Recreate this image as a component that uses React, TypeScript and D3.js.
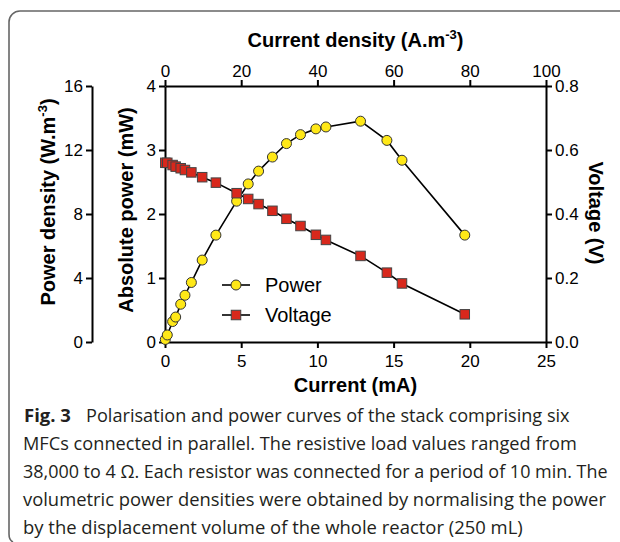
import React, { useEffect, useRef } from 'react';
import * as d3 from 'd3';

// Current (mA) for each resistor step
const currentMA = [0.02, 0.15, 0.5, 0.7, 1.03, 1.31, 1.73, 2.44, 3.34, 4.7, 5.46, 6.14, 7.05, 7.97, 8.89, 9.9, 10.56, 12.83, 14.56, 15.55, 19.67];
// Absolute power (mW)
const powerMW = [0.04, 0.11, 0.32, 0.39, 0.59, 0.73, 0.93, 1.28, 1.67, 2.2, 2.47, 2.67, 2.89, 3.1, 3.24, 3.33, 3.36, 3.45, 3.15, 2.84, 1.67];
// Voltage (V)
const voltageV = [0.56, 0.56, 0.553, 0.548, 0.543, 0.5375, 0.53, 0.515, 0.498, 0.465, 0.447, 0.431, 0.41, 0.385, 0.3625, 0.335, 0.319, 0.269, 0.2167, 0.183, 0.0865];

const currentTicks = [0, 5, 10, 15, 20, 25];
const densityCurrentTicks = [0, 20, 40, 60, 80, 100];
const powerTicks = [0, 1, 2, 3, 4];
const powerDensityTicks = [0, 4, 8, 12, 16];
const voltageTicks = [0, 0.2, 0.4, 0.6, 0.8];
const legendLabels = ['Power', 'Voltage'];
const captionBold = 'Fig. 3';
const captionLines = [
  'Polarisation and power curves of the stack comprising six',
  'MFCs connected in parallel. The resistive load values ranged from',
  '38,000 to 4 \u03A9. Each resistor was connected for a period of 10 min. The',
  'volumetric power densities were obtained by normalising the power',
  'by the displacement volume of the whole reactor (250 mL)',
];

const FONT = "'Liberation Sans', Arial, Helvetica, sans-serif";
const CAP_FONT = "'Open Sans', 'Noto Sans', sans-serif";
const YELLOW = '#FFE817';
const RED = '#D8281C';

export default function App() {
  const ref = useRef<SVGSVGElement>(null);

  useEffect(() => {
    const svg = d3.select(ref.current);
    svg.selectAll('*').remove();

    const x = d3.scaleLinear().domain([0, 25]).range([165, 546]);
    const xTop = d3.scaleLinear().domain([0, 100]).range([165, 546]);
    const yP = d3.scaleLinear().domain([0, 4]).range([342, 86]);
    const yPD = d3.scaleLinear().domain([0, 16]).range([342, 86]);
    const yV = d3.scaleLinear().domain([0, 0.8]).range([342, 86]);

    // frame
    svg.append('path')
      .attr('d', 'M 621 11 H 20 A 11 11 0 0 0 9 22 V 534 Q 9 540 13 542')
      .attr('fill', 'none').attr('stroke', '#666').attr('stroke-width', 1.6);

    const styleAxis = (g: any) => {
      g.attr('font-size', 17).attr('font-family', FONT);
      g.select('.domain').attr('stroke-width', 2).attr('stroke', '#000');
      g.selectAll('.tick line').attr('stroke-width', 2).attr('stroke', '#000');
      g.selectAll('.tick text').attr('fill', '#000');
    };

    svg.append('g').attr('transform', 'translate(0,342)')
      .call(d3.axisBottom(x).tickValues(currentTicks).tickSize(6).tickSizeOuter(0).tickPadding(7).tickFormat(d3.format('d')))
      .call(styleAxis);
    svg.append('g').attr('transform', 'translate(0,86)')
      .call(d3.axisTop(xTop).tickValues(densityCurrentTicks).tickSize(6).tickSizeOuter(0).tickPadding(3).tickFormat(d3.format('d')))
      .call(styleAxis);
    svg.append('g').attr('transform', 'translate(165,0)')
      .call(d3.axisLeft(yP).tickValues(powerTicks).tickSize(6).tickSizeOuter(0).tickPadding(3).tickFormat(d3.format('d')))
      .call(styleAxis);
    svg.append('g').attr('transform', 'translate(92,0)')
      .call(d3.axisLeft(yPD).tickValues(powerDensityTicks).tickSize(6).tickSizeOuter(0).tickPadding(3).tickFormat(d3.format('d')))
      .call(styleAxis);
    svg.append('g').attr('transform', 'translate(546,0)')
      .call(d3.axisRight(yV).tickValues(voltageTicks).tickSize(6).tickSizeOuter(0).tickPadding(3).tickFormat(d3.format('.1f')))
      .call(styleAxis);

    // axis titles
    const title = (sel: any) => sel.attr('font-family', FONT).attr('font-weight', 'bold').attr('font-size', 20).attr('fill', '#000');
    svg.append('text').call(title).attr('x', 355.5).attr('y', 392).attr('text-anchor', 'middle').text('Current (mA)');
    const tt = svg.append('text').call(title).attr('x', 355.5).attr('y', 47).attr('text-anchor', 'middle');
    tt.append('tspan').text('Current density (A.m');
    tt.append('tspan').attr('dy', -8).attr('font-size', 13).text('-3');
    tt.append('tspan').attr('dy', 8).text(')');

    const pd = svg.append('text').call(title).attr('text-anchor', 'middle').attr('transform', 'translate(55,202) rotate(-90)');
    pd.append('tspan').text('Power density (W.m');
    pd.append('tspan').attr('dy', -8).attr('font-size', 13).text('-3');
    pd.append('tspan').attr('dy', 8).text(')');
    svg.append('text').call(title).attr('text-anchor', 'middle').attr('transform', 'translate(133,210) rotate(-90)').text('Absolute power (mW)');
    svg.append('text').call(title).attr('text-anchor', 'middle').attr('transform', 'translate(589,213) rotate(90)').text('Voltage (V)');

    // series
    const idx = d3.range(currentMA.length);
    const lineP = d3.line<number>().x(i => x(currentMA[i])).y(i => yP(powerMW[i]));
    const lineV = d3.line<number>().x(i => x(currentMA[i])).y(i => yV(voltageV[i]));
    svg.append('path').attr('d', lineP(idx)).attr('fill', 'none').attr('stroke', '#000').attr('stroke-width', 1.6);
    svg.append('g').selectAll('circle').data(idx).join('circle')
      .attr('cx', i => x(currentMA[i])).attr('cy', i => yP(powerMW[i])).attr('r', 5)
      .attr('fill', YELLOW).attr('stroke', '#333').attr('stroke-width', 1);

    svg.append('path').attr('d', lineV(idx)).attr('fill', 'none').attr('stroke', '#000').attr('stroke-width', 1.6);
    const s = 9.5;
    svg.append('g').selectAll('rect').data(idx).join('rect')
      .attr('x', i => x(currentMA[i]) - s / 2).attr('y', i => yV(voltageV[i]) - s / 2)
      .attr('width', s).attr('height', s)
      .attr('fill', RED).attr('stroke', '#444').attr('stroke-width', 1);

    // legend
    const legY = [285, 315];
    legendLabels.forEach((lab, k) => {
      const g = svg.append('g');
      g.append('line').attr('x1', 222).attr('x2', 250).attr('y1', legY[k]).attr('y2', legY[k]).attr('stroke', '#000').attr('stroke-width', 1.6);
      if (k === 0) {
        g.append('circle').attr('cx', 236).attr('cy', legY[k]).attr('r', 5).attr('fill', YELLOW).attr('stroke', '#333');
      } else {
        g.append('rect').attr('x', 236 - s / 2).attr('y', legY[k] - s / 2).attr('width', s).attr('height', s).attr('fill', RED).attr('stroke', '#444');
      }
      g.append('text').attr('x', 265).attr('y', legY[k] + 7).attr('font-family', FONT).attr('font-size', 20).attr('fill', '#000').text(lab);
    });

    // caption (each line scaled horizontally to its measured width in the reference)
    const capY = [422, 450, 478, 506, 534];
    const capX = [86, 23, 23, 23, 23];
    const capEnd = [570, 577, 608, 606, 523];
    svg.append('text').attr('x', 24).attr('y', capY[0]).attr('font-family', CAP_FONT).attr('font-weight', 'bold').attr('font-size', 18.5).attr('fill', '#231f20').text(captionBold);
    captionLines.forEach((ln, k) => {
      const t = svg.append('text').attr('x', 0).attr('y', 0)
        .attr('font-family', CAP_FONT).attr('font-size', 18.5).attr('fill', '#231f20')
        .text(ln);
      const node = t.node() as SVGTextElement;
      const len = node.getComputedTextLength() || 1;
      const k2 = (capEnd[k] - capX[k]) / len;
      t.attr('transform', `translate(${capX[k]},${capY[k]}) scale(${k2},1)`);
    });
  }, []);

  return <svg ref={ref} width={620} height={542} style={{ position: 'absolute', left: 0, top: 0, background: '#fff' }} />;
}
